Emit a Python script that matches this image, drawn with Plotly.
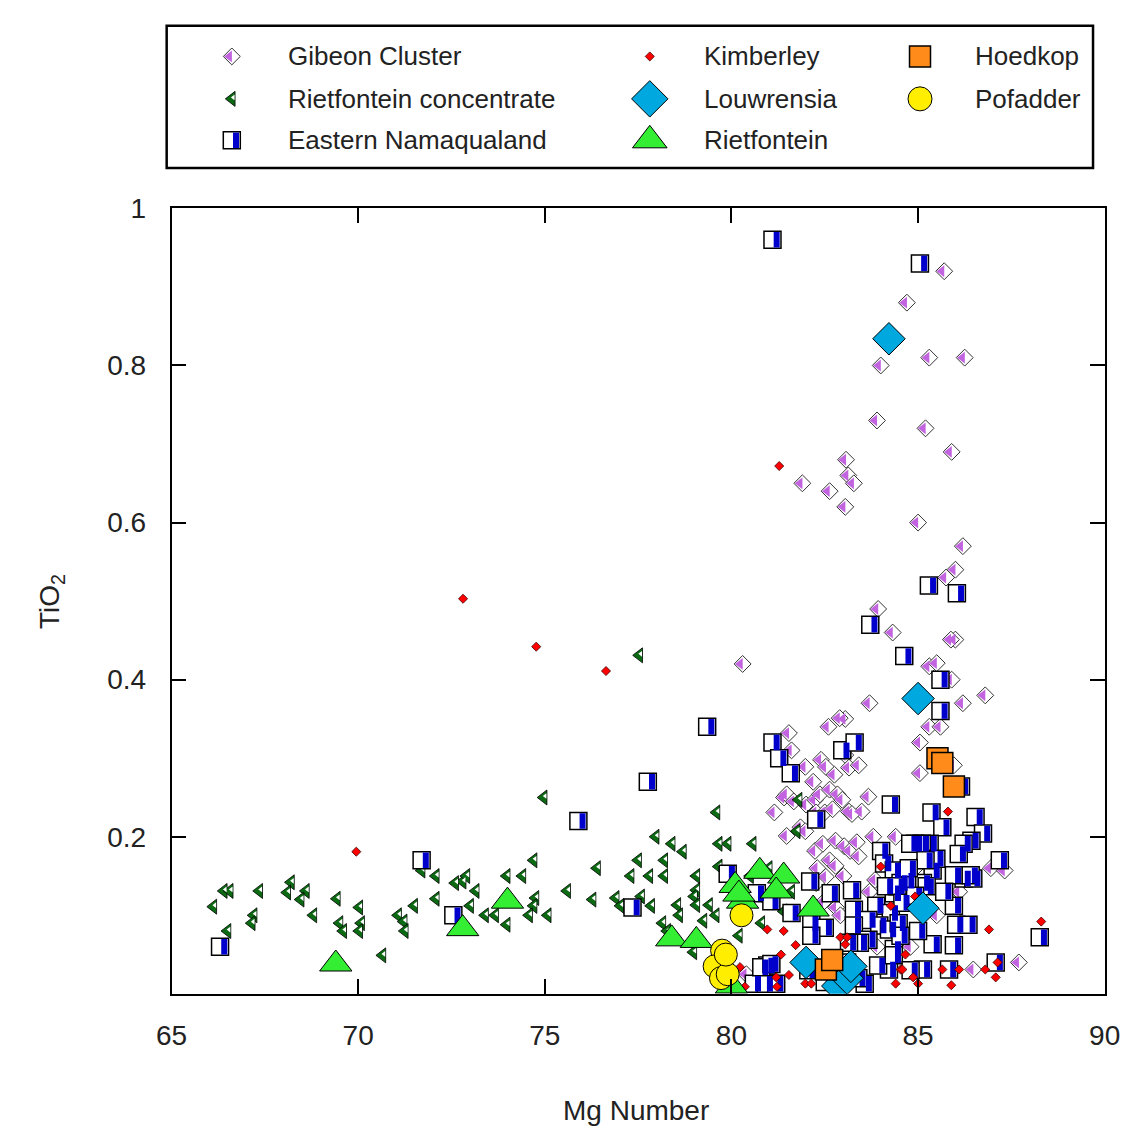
import plotly.graph_objects as go

# ---------------- data ----------------
gibeon_x = [85.7, 84.7, 85.3, 86.25, 84.0, 83.9, 85.2, 85.9, 83.07, 83.13, 83.28, 81.9, 82.63, 83.05,
            85.0, 86.2, 86.0, 85.75, 83.93, 84.32, 86.0, 85.88, 85.3, 85.5, 80.3, 86.8, 83.7, 86.2,
            85.9, 85.3, 85.6, 83.05, 82.6, 82.9, 85.05, 85.05, 85.96,
            81.54, 81.61, 81.98, 82.4, 82.53, 83.05, 83.15, 83.41, 81.41, 81.48, 81.67, 82.0, 82.24,
            82.37, 82.63, 82.84, 82.97, 83.67, 83.49, 81.15, 81.48, 81.85, 81.98, 82.27, 82.5, 82.71,
            83.15, 83.23, 82.24, 82.45, 82.79, 83.02, 83.18, 83.36, 83.41, 83.8, 82.63, 82.79, 82.53,
            82.27, 82.19, 82.76,
            84.97, 86.95, 87.32, 87.7, 86.48, 82.45, 82.8, 82.92, 83.7, 83.85, 83.0, 82.3, 80.4, 84.4,
            85.5, 84.8, 83.9, 86.1]
gibeon_y = [0.92, 0.88, 0.81, 0.81, 0.80, 0.73, 0.72, 0.69, 0.68, 0.66, 0.65, 0.65, 0.64, 0.62,
            0.60, 0.57, 0.54, 0.53, 0.49, 0.46, 0.451, 0.451, 0.417, 0.421, 0.42, 0.38, 0.37, 0.37,
            0.40, 0.34, 0.34, 0.35, 0.34, 0.351, 0.32, 0.281, 0.291,
            0.332, 0.31, 0.289, 0.298, 0.289, 0.304, 0.288, 0.291, 0.25, 0.254, 0.245, 0.241, 0.247,
            0.254, 0.26, 0.254, 0.247, 0.251, 0.232, 0.231, 0.201, 0.212, 0.207, 0.231, 0.231, 0.235,
            0.232, 0.229, 0.182, 0.191, 0.195, 0.188, 0.182, 0.193, 0.175, 0.2, 0.17, 0.163, 0.149,
            0.141, 0.27, 0.279,
            0.162, 0.16, 0.157, 0.04, 0.031, 0.116, 0.11, 0.1, 0.13, 0.145, 0.15, 0.16, 0.025, 0.2,
            0.1, 0.06, 0.06, 0.13]

rc_x = [66.12, 66.4, 66.56, 66.5, 67.35, 67.2, 67.15, 68.2, 68.1, 68.6, 68.46, 68.8, 69.43, 69.5,
        69.6, 70.03, 70.08, 70.03, 70.65, 71.07, 71.22, 71.25, 71.5, 71.7, 72.08, 72.08, 72.6, 72.8,
        72.9, 73.15, 73.0,
        77.53, 74.97, 79.6, 77.97, 78.4, 78.7, 79.66, 79.9, 80.57, 74.7, 73.98, 74.4, 76.4, 77.5,
        78.2, 78.2, 77.3, 77.8, 79.06, 79.06, 79.66, 75.6, 76.28, 74.75, 74.7, 74.58, 75.08, 73.98,
        73.4, 73.67, 76.9, 77.03, 77.58, 77.85, 78.55, 78.6, 79.0, 79.06, 79.4, 79.58, 78.15, 78.28,
        79.25, 78.98, 80.2, 81.8, 81.75, 80.5, 80.9, 81.4, 80.8, 81.0, 81.6]
rc_y = [0.111, 0.131, 0.131, 0.08, 0.131, 0.1, 0.09, 0.142, 0.129, 0.131, 0.12, 0.1, 0.121, 0.09,
        0.08, 0.11, 0.09, 0.08, 0.049, 0.1, 0.092, 0.08, 0.112, 0.157, 0.15, 0.121, 0.141, 0.143,
        0.15, 0.131, 0.112,
        0.431, 0.25, 0.231, 0.2, 0.191, 0.181, 0.191, 0.191, 0.191, 0.17, 0.15, 0.15, 0.16, 0.17,
        0.17, 0.15, 0.15, 0.15, 0.15, 0.132, 0.162, 0.131, 0.12, 0.122, 0.112, 0.1, 0.1, 0.088,
        0.1, 0.1, 0.122, 0.112, 0.124, 0.112, 0.113, 0.1, 0.124, 0.113, 0.113, 0.1, 0.09, 0.08,
        0.093, 0.053, 0.074, 0.247, 0.207, 0.15, 0.12, 0.105, 0.09, 0.16, 0.13]

en_x = [81.1, 85.05, 66.3, 71.7, 72.55, 75.9, 77.76, 79.35, 77.35, 85.29, 86.04, 83.72, 84.63, 85.6,
        85.6, 81.1, 81.28, 81.59, 82.97, 83.3, 82.27, 84.27, 88.26, 87.08,
        85.36, 86.54, 86.74, 85.65, 84.92, 85.31, 86.43, 86.22, 84.01, 86.09, 87.19, 84.09, 84.35,
        85.39, 86.22, 86.48, 84.53, 85.13, 84.35, 84.71, 82.11, 83.23, 84.14, 84.45, 85.23, 85.96,
        86.41, 81.61, 83.88, 84.27, 83.28, 85.96, 84.58, 84.92, 82.14, 82.5, 83.67, 83.96, 84.22,
        83.28, 84.48, 86.02, 86.35, 82.14, 83.67, 83.44, 84.35, 84.53, 83.15, 85.96, 85.39, 80.96,
        84.22, 83.93, 85.13, 85.83, 82.06, 80.6, 80.92, 81.2, 80.8, 81.07, 83.57, 82.5, 84.35, 85.1,
        84.79, 79.9, 80.68, 81.07, 85.49, 86.15, 85.2, 84.75, 85.7, 85.0, 84.8, 83.1, 83.4, 82.66]
en_y = [0.96, 0.93, 0.06, 0.17, 0.1, 0.22, 0.27, 0.34, 0.11, 0.52, 0.51, 0.47, 0.43, 0.40,
        0.36, 0.32, 0.30, 0.281, 0.31, 0.32, 0.222, 0.241, 0.072, 0.04,
        0.231, 0.225, 0.204, 0.212, 0.191, 0.191, 0.195, 0.191, 0.182, 0.178, 0.17, 0.166, 0.157,
        0.157, 0.147, 0.147, 0.141, 0.141, 0.128, 0.144, 0.143, 0.132, 0.137, 0.137, 0.137, 0.151,
        0.151, 0.103, 0.112, 0.103, 0.107, 0.112, 0.116, 0.125, 0.09, 0.084, 0.094, 0.087, 0.082,
        0.087, 0.09, 0.088, 0.088, 0.074, 0.069, 0.065, 0.057, 0.074, 0.065, 0.062, 0.063, 0.036,
        0.031, 0.036, 0.031, 0.031, 0.03, 0.013, 0.013, 0.013, 0.034, 0.038, 0.013, 0.015, 0.049, 0.191,
        0.191, 0.153, 0.128, 0.118, 0.172, 0.264, 0.17, 0.16, 0.13, 0.08, 0.03, 0.04, 0.02, 0.128]

kim_x = [72.81, 69.95, 81.28, 74.77, 76.64, 85.8, 84.0, 88.3, 86.9,
         80.96, 81.4, 81.72, 81.33, 81.54, 81.2, 81.22, 80.36, 80.23, 81.98, 82.14, 82.92, 83.1,
         83.05, 84.27, 84.66, 84.53, 84.87, 84.4, 85.0, 84.92, 87.13, 87.08, 86.8, 86.1, 85.65,
         84.58, 85.89]
kim_y = [0.503, 0.181, 0.672, 0.442, 0.411, 0.232, 0.162, 0.092, 0.082,
         0.082, 0.08, 0.062, 0.05, 0.024, 0.021, 0.009, 0.009, 0.034, 0.013, 0.013, 0.072, 0.072,
         0.063, 0.112, 0.05, 0.031, 0.021, 0.013, 0.013, 0.124, 0.04, 0.021, 0.031, 0.031, 0.031,
         0.031, 0.011]

lou_x = [84.22, 85.0, 85.13, 82.0, 82.85, 83.1, 83.2]
lou_y = [0.834, 0.376, 0.109, 0.04, 0.01, 0.02, 0.035]

rie_x = [69.4, 72.8, 74.0, 78.4, 79.06, 80.0, 80.1, 80.3, 80.76, 81.4, 81.2, 80.2, 82.19]
rie_y = [0.038, 0.083, 0.118, 0.07, 0.068, 0.01, 0.138, 0.118, 0.156, 0.15, 0.131, 0.127, 0.108]

hoe_x = [85.52, 85.65, 85.96, 82.53, 82.7]
hoe_y = [0.30, 0.294, 0.264, 0.031, 0.043]

pof_x = [80.27, 79.75, 79.55, 79.72, 79.9, 79.85]
pof_y = [0.1, 0.055, 0.035, 0.02, 0.025, 0.05]

x_ticks = [65, 70, 75, 80, 85, 90]
y_ticks = [0.2, 0.4, 0.6, 0.8, 1]
y_tick_text = ["0.2", "0.4", "0.6", "0.8", "1"]

legend_names = ["Gibeon Cluster", "Rietfontein concentrate", "Eastern Namaqualand",
                "Kimberley", "Louwrensia", "Rietfontein", "Hoedkop", "Pofadder"]

# ---------------- layout geometry ----------------
W, H = 1145, 1131
PL, PR, PT, PB = 160, 1120, 196, 992
X_RANGE = [65, 90]
Y_RANGE = [0, 1]
px_per_x = (PR - PL) / (X_RANGE[1] - X_RANGE[0])
px_per_y = (PB - PT) / (Y_RANGE[1] - Y_RANGE[0])

FONT = "Liberation Sans, Arial, sans-serif"
TXT = "#222222"

PURPLE = "#c264e0"
BLUE = "#0000cc"
DGREEN = "#0b6a12"
RED = "#ff0000"
CYAN = "#00a8e0"
GREEN = "#33ee33"
ORANGE = "#ff8c1a"
YELLOW = "#ffee00"

SIZES = dict(g=13, rc=13, en=17, k=7, l=25, r=28, ho=21, p=23)
LEG_SIZES = dict(g=13, rc=13, en=17, k=7, l=28, r=30, ho=21, p=24)


def draw_all(data, xa, ya, dxf, dyf, sz, clip):
    def sc(x, y, **marker):
        fig.add_trace(go.Scatter(x=x, y=y, mode="markers", xaxis=xa, yaxis=ya,
                                 showlegend=False, cliponaxis=clip, hoverinfo="skip",
                                 marker=marker))

    # Gibeon Cluster: diamond, left half purple
    gx, gy = data[0]
    sc(gx, gy, symbol="diamond", size=sz["g"], color="white",
       line=dict(color="#333333", width=1))
    sc([v + dxf(-0.393 * sz["g"] / 2) for v in gx], gy, symbol="triangle-left",
       size=0.7855 * sz["g"], color=PURPLE, line=dict(width=0))

    # Rietfontein concentrate: dark green left triangle with a white highlight
    rx, ry = data[1]
    sc(rx, ry, symbol="triangle-left", size=sz["rc"], color=DGREEN,
       line=dict(color="black", width=0.8))
    sc([v + dxf(1.6) for v in rx], [v + dyf(1.5) for v in ry], symbol="triangle-left",
       size=sz["rc"] * 0.38, color="white", line=dict(width=0))

    # Eastern Namaqualand: square, right half blue
    ex, ey = data[2]
    sc(ex, ey, symbol="square", size=sz["en"], color="white", line=dict(color="black", width=1.5))
    sc([v + dxf(4.3) for v in ex], ey, symbol="line-ns", size=(sz["en"] - 1.5) / 1.4,
       color=BLUE, line=dict(width=6, color=BLUE))

    sc(data[3][0], data[3][1], symbol="diamond", size=sz["k"], color=RED,
       line=dict(color="#400000", width=0.8))
    sc(data[4][0], data[4][1], symbol="diamond", size=sz["l"], color=CYAN,
       line=dict(color="black", width=1))
    sc(data[5][0], data[5][1], symbol="triangle-up", size=sz["r"], color=GREEN,
       line=dict(color="black", width=1))
    sc(data[6][0], data[6][1], symbol="square", size=sz["ho"], color=ORANGE,
       line=dict(color="black", width=1.5))
    sc(data[7][0], data[7][1], symbol="circle", size=sz["p"], color=YELLOW,
       line=dict(color="black", width=1))


fig = go.Figure()

main_data = [(gibeon_x, gibeon_y), (rc_x, rc_y), (en_x, en_y), (kim_x, kim_y),
             (lou_x, lou_y), (rie_x, rie_y), (hoe_x, hoe_y), (pof_x, pof_y)]
draw_all(main_data, "x", "y", lambda p: p / px_per_x, lambda p: p / px_per_y, SIZES, True)

# legend drawn on a pixel-unit overlay axis (y increases downward)
col_sym = [222, 652, 930]
col_txt = [278, 706, 985]
row_y = [42, 85, 127]
slots = [(0, 0), (0, 1), (0, 2), (1, 0), (1, 1), (1, 2), (2, 0), (2, 1)]
leg_data = [([col_sym[c]], [row_y[r]]) for c, r in slots]
draw_all(leg_data, "x2", "y2", lambda p: p, lambda p: -p, LEG_SIZES, False)

annotations = []
for (c, r), name in zip(slots, legend_names):
    annotations.append(dict(x=col_txt[c], y=row_y[r], xref="x2", yref="y2", text=name,
                            showarrow=False, xanchor="left", yanchor="middle",
                            font=dict(family=FONT, size=26, color=TXT)))
annotations.append(dict(x=638, y=1110, xref="x2", yref="y2", text="Mg Number", showarrow=False,
                        xanchor="center", yanchor="middle",
                        font=dict(family=FONT, size=28, color=TXT)))
annotations.append(dict(x=36, y=594, xref="x2", yref="y2", text="TiO<sub>2</sub>",
                        showarrow=False, textangle=-90, xanchor="center", yanchor="middle",
                        font=dict(family=FONT, size=28, color=TXT)))

shapes = [dict(type="rect", xref="x2", yref="y2", x0=155, x1=1108, y0=11, y1=155,
               line=dict(color="black", width=2.5), fillcolor="rgba(0,0,0,0)", layer="below")]

axis_common = dict(showline=True, linecolor="black", linewidth=1.5, mirror="ticks",
                   ticks="inside", ticklen=15, tickwidth=1.5, tickcolor="black",
                   showgrid=False, zeroline=False,
                   tickfont=dict(family=FONT, size=28, color=TXT))

fig.update_layout(
    width=W, height=H,
    margin=dict(l=0, r=0, t=0, b=0),
    paper_bgcolor="white", plot_bgcolor="rgba(0,0,0,0)",
    showlegend=False,
    xaxis=dict(domain=[PL / W, PR / W], range=X_RANGE, tickvals=x_ticks,
               ticklabelstandoff=16, **axis_common),
    yaxis=dict(domain=[1 - PB / H, 1 - PT / H], range=Y_RANGE, tickvals=y_ticks,
               ticktext=y_tick_text, ticklabelstandoff=18, **axis_common),
    xaxis2=dict(domain=[0, 1], range=[0, W], visible=False, fixedrange=True),
    yaxis2=dict(domain=[0, 1], range=[H, 0], visible=False, fixedrange=True),
    annotations=annotations,
    shapes=shapes,
)

fig.write_html(
    "out.html",
    config={"displayModeBar": False},
    post_script="document.body.style.margin='0';document.documentElement.style.overflow='hidden';",
)
